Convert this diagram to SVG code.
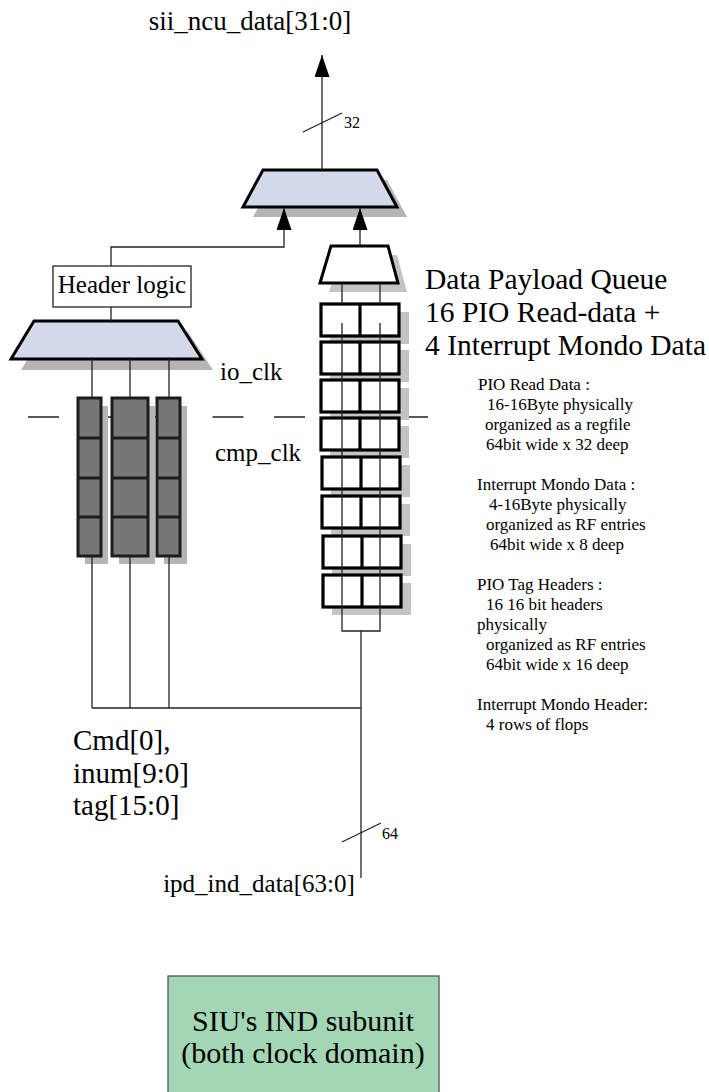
<svg xmlns="http://www.w3.org/2000/svg" width="709" height="1092" viewBox="0 0 709 1092">
<defs>
<style>
.t{font-family:"Liberation Serif","Times New Roman",serif;fill:#000}
.ln{stroke:#222;stroke-width:1.3;fill:none}
.mux{fill:#d3d9ea;stroke:#000;stroke-width:3;stroke-linejoin:miter}
.wmux{fill:#fff;stroke:#000;stroke-width:3}
.sh{fill:#b5b5b5}
.sh2{fill:#c4c4c4}
.col{fill:#767876;stroke:#1c1c1c;stroke-width:3}
.ent{fill:#fff;stroke:#000;stroke-width:3.2}
.small{font-size:17px}
</style>
<marker id="ah" markerWidth="22" markerHeight="15" refX="22" refY="7.5" orient="auto" markerUnits="userSpaceOnUse" viewBox="0 0 22 15"><path d="M0 0 L22 7.5 L0 15 Z" fill="#000"/></marker>
</defs>

<!-- clock boundary dashed line -->
<line id="clock-boundary" x1="28" y1="417" x2="431" y2="417" stroke="#222" stroke-width="1.3" stroke-dasharray="31 30.5"/>

<g id="top-label"><text class="t" x="250" y="30" font-size="27" text-anchor="middle">sii_ncu_data[31:0]</text></g>

<g id="top-mux">
<polygon class="sh" points="273,180 387,180 407,217 253,217"/>
<polygon class="mux" points="263,170 377,170 397,207 243,207"/>
</g>

<g id="header-logic">
<rect x="53" y="266" width="138" height="41" fill="#fff" stroke="#222" stroke-width="1.3"/>
<text class="t" x="122" y="293" font-size="25" text-anchor="middle">Header logic</text>
</g>

<g id="left-mux">
<polygon class="sh" points="44,332 188,332 213,370 21,370"/>
<polygon class="mux" points="34,321 178,321 202,359 11,359"/>
</g>

<g id="left-queues">
<rect class="sh" x="85" y="406" width="23" height="158"/>
<rect class="sh" x="119" y="406" width="36" height="158"/>
<rect class="sh" x="164" y="406" width="23" height="158"/>
<g class="col">
<rect x="78" y="398" width="23" height="158"/>
<rect x="112" y="398" width="36" height="158"/>
<rect x="157" y="398" width="23" height="158"/>
</g>
<path d="M78 438H101M78 478H101M78 517H101M112 438H148M112 478H148M112 517H148M157 438H180M157 478H180M157 517H180" stroke="#1c1c1c" stroke-width="3"/>
</g>

<g id="right-mux">
<polygon class="sh2" points="340,255 397,255 407,292 329,292"/>
<polygon class="wmux" points="331,246 388,246 398,283 320,283"/>
</g>

<g id="right-queue">
<g class="sh2">
<rect x="330" y="312" width="79" height="32"/>
<rect x="330" y="350" width="79" height="32"/>
<rect x="330" y="388" width="79" height="32"/>
<rect x="330" y="426" width="79" height="32"/>
<rect x="331" y="465" width="79" height="32"/>
<rect x="331" y="504" width="79" height="32"/>
<rect x="332" y="544" width="79" height="32"/>
<rect x="332" y="583" width="79" height="32"/>
</g>
<g class="ent">
<rect x="321" y="304" width="78" height="32"/><line x1="360" y1="304" x2="360" y2="336"/>
<rect x="321" y="342" width="78" height="32"/><line x1="360" y1="342" x2="360" y2="374"/>
<rect x="321" y="380" width="78" height="32"/><line x1="360" y1="380" x2="360" y2="412"/>
<rect x="321" y="418" width="78" height="32"/><line x1="360" y1="418" x2="360" y2="450"/>
<rect x="322" y="457" width="78" height="32"/><line x1="361" y1="457" x2="361" y2="489"/>
<rect x="322" y="496" width="78" height="32"/><line x1="361" y1="496" x2="361" y2="528"/>
<rect x="323" y="536" width="78" height="32"/><line x1="362" y1="536" x2="362" y2="568"/>
<rect x="323" y="575" width="78" height="32"/><line x1="362" y1="575" x2="362" y2="607"/>
</g>
</g>

<g id="connectors" class="ln">
<line x1="322" y1="170" x2="322" y2="55" marker-end="url(#ah)"/>
<line x1="303" y1="132" x2="342" y2="113"/>
<polyline points="111,266 111,247 284,247 284,208" marker-end="url(#ah)"/>
<line x1="360" y1="246" x2="360" y2="208" marker-end="url(#ah)"/>
<line x1="111" y1="307" x2="111" y2="321"/>
<line x1="92" y1="359" x2="92" y2="398"/>
<line x1="130" y1="359" x2="130" y2="398"/>
<line x1="169" y1="359" x2="169" y2="398"/>
<line x1="92" y1="556" x2="92" y2="708"/>
<line x1="130" y1="556" x2="130" y2="708"/>
<line x1="169" y1="556" x2="169" y2="708"/>
<line x1="92" y1="708" x2="361" y2="708"/>
<line x1="342" y1="283" x2="342" y2="304"/>
<line x1="380" y1="283" x2="380" y2="304"/>
<polyline points="342,323 342,631 380,631 380,323"/>
<line x1="361" y1="631" x2="361" y2="878"/>
<line x1="342" y1="842" x2="381" y2="823"/>
</g>

<g id="labels">
<text class="t" x="344" y="128" font-size="16">32</text>
<text class="t" x="382" y="839" font-size="16">64</text>
<text class="t" x="220" y="380" font-size="25">io_clk</text>
<text class="t" x="215" y="461" font-size="25">cmp_clk</text>
<text class="t" font-size="29.5"><tspan x="425" y="289">Data Payload Queue</tspan><tspan x="425" y="322">16 PIO Read-data +</tspan><tspan x="425" y="355">4 Interrupt Mondo Data</tspan></text>
<text class="t small"><tspan x="478" y="390">PIO Read Data :</tspan><tspan x="487" y="410">16-16Byte physically</tspan><tspan x="485" y="430">organized as a regfile</tspan><tspan x="486" y="450">64bit wide x 32 deep</tspan><tspan x="477" y="490">Interrupt Mondo Data :</tspan><tspan x="489" y="510">4-16Byte physically</tspan><tspan x="486" y="530">organized as RF entries</tspan><tspan x="490" y="550">64bit wide x 8 deep</tspan><tspan x="477" y="590">PIO Tag Headers :</tspan><tspan x="486" y="610">16 16 bit headers</tspan><tspan x="477" y="630">physically</tspan><tspan x="486" y="650">organized as RF entries</tspan><tspan x="486" y="670">64bit wide x 16 deep</tspan><tspan x="477" y="710">Interrupt Mondo Header:</tspan><tspan x="486" y="730">4 rows of flops</tspan></text>
<text class="t" font-size="29"><tspan x="73" y="750">Cmd[0],</tspan><tspan x="73" y="783">inum[9:0]</tspan><tspan x="73" y="815">tag[15:0]</tspan></text>
<text class="t" x="259" y="892" font-size="25" text-anchor="middle">ipd_ind_data[63:0]</text>
</g>

<g id="siu-ind-subunit">
<rect x="168" y="976" width="271" height="120" fill="#a3d6b4" stroke="#555" stroke-width="1.3"/>
<text class="t" x="303" y="1031" font-size="30" text-anchor="middle">SIU's IND subunit</text>
<text class="t" x="303" y="1063" font-size="30" text-anchor="middle">(both clock domain)</text>
</g>
</svg>
